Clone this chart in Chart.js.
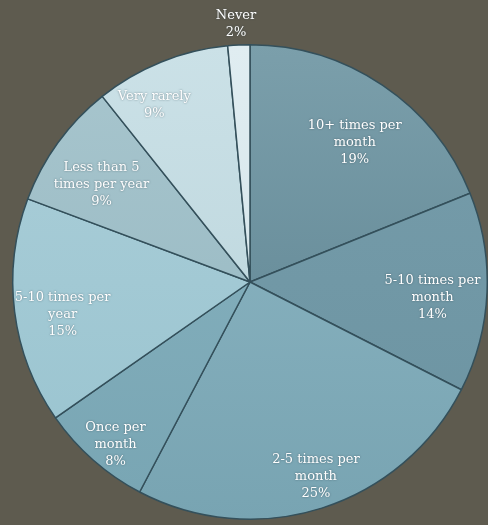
<!DOCTYPE html>
<html>
<head>
<meta charset="utf-8">
<script src="https://cdn.jsdelivr.net/npm/chart.js@4"></script>
<style>
  html,body{margin:0;padding:0;background:#5e5b4f;}
  #wrap{width:488px;height:525px;}
</style>
</head>
<body>
<div id="wrap"><canvas id="chart" width="488" height="525"></canvas></div>
<script>
/* data */
const categories = [
  ["10+ times per", "month"],
  ["5-10 times per", "month"],
  ["2-5 times per", "month"],
  ["Once per", "month"],
  ["5-10 times per", "year"],
  ["Less than 5", "times per year"],
  ["Very rarely"],
  ["Never"]
];
const shares = [18.9, 13.6, 25.2, 7.6, 15.4, 8.6, 9.2, 1.5];

/* look */
const topColors    = ["#7b9fab", "#779dab", "#8fb8c5", "#89b4c1", "#accfd9", "#a8c6ce", "#cbe1e7", "#e0edf1"];
const bottomColors = ["#5a808e", "#6b93a1", "#78a4b2", "#78a5b3", "#98c3cf", "#93b5bf", "#b7d2d9", "#cfe2e8"];
// where each label sits: share of the radius, and turn from the slice middle (degrees)
const labelRadius  = [0.735, 0.772, 0.865, 0.889, 0.802, 0.749, 0.846, 1.09];
const labelTurn    = [2.9, 2.5, -1.1, -1.8, -2.8, -2.7, -6.5, -0.4];

const total = shares.reduce((a,b)=>a+b,0);
const ctx = document.getElementById("chart");

function sliceFill(c){
  const area = c.chart.chartArea;
  if(!area) return topColors[c.dataIndex];
  const g = c.chart.ctx.createLinearGradient(0, area.top, 0, area.bottom);
  g.addColorStop(0, topColors[c.dataIndex]);
  g.addColorStop(1, bottomColors[c.dataIndex]);
  return g;
}

const sliceLabels = {
  id:"sliceLabels",
  afterDatasetsDraw(chart){
    const c = chart.ctx;
    const arcs = chart.getDatasetMeta(0).data;
    c.save();
    c.fillStyle = "#ffffff";
    c.font = "13px 'DejaVu Serif'";
    c.textAlign = "center";
    c.textBaseline = "middle";
    c.shadowColor = "rgba(40,60,70,0.6)";
    c.shadowBlur = 2;
    arcs.forEach((a,i)=>{
      const mid = (a.startAngle + a.endAngle)/2 + labelTurn[i]*Math.PI/180;
      const r = a.outerRadius * labelRadius[i];
      const x = a.x + Math.cos(mid)*r;
      const y = a.y + Math.sin(mid)*r;
      const lines = [...categories[i], Math.round(shares[i]/total*100) + "%"];
      const lh = 17;
      lines.forEach((t,k)=>{
        c.fillText(t, x, y + (k - (lines.length-1)/2)*lh);
      });
    });
    c.restore();
  }
};

new Chart(ctx,{
  type:"pie",
  data:{
    labels: categories.map(c=>c.join(" ")),
    datasets:[{
      data: shares,
      backgroundColor: sliceFill,
      borderColor: "#34505b",
      borderWidth: 1.5
    }]
  },
  options:{
    responsive:false,
    animation:false,
    layout:{padding:{left:12, right:0, top:44, bottom:5}},
    plugins:{legend:{display:false}, tooltip:{enabled:false}}
  },
  plugins:[sliceLabels]
});
</script>
</body>
</html>
